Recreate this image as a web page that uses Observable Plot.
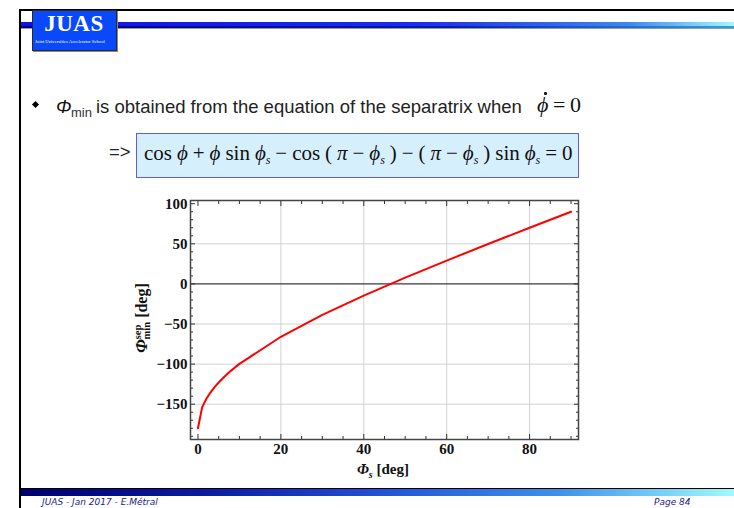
<!DOCTYPE html>
<html>
<head>
<meta charset="utf-8">
<script src="https://cdn.jsdelivr.net/npm/d3@7"></script>
<script src="https://cdn.jsdelivr.net/npm/@observablehq/plot@0.6"></script>
<style>
  body { margin: 0; background: #fff; }
  #slide { position: relative; width: 734px; height: 508px; overflow: hidden; background: #fff;
           font-family: "Liberation Sans", Arial, sans-serif; color: #111; }
  .abs { position: absolute; white-space: nowrap; }
  .serif { font-family: "Liberation Serif", "Times New Roman", serif; }
  .sub { position: relative; font-style: italic; font-size: 12px; top: 4px; }
</style>
</head>
<body>
<div id="slide">
  <!-- slide frame -->
  <div class="abs" style="left:20px;top:9px;width:714px;height:2px;background:#000"></div>
  <div class="abs" style="left:19px;top:9px;width:2px;height:499px;background:#000"></div>
  <!-- header bar -->
  <div class="abs" style="left:21px;top:22px;width:713px;height:4px;background:linear-gradient(to right,#1010e8 0%,#1a2cf0 55%,#3a86f2 85%,#9ffbff 100%)"></div>
  <div class="abs" style="left:21px;top:26px;width:713px;height:2px;background:linear-gradient(to right,#00007a 0%,#0a1aa8 60%,#3a9ae0 100%)"></div>
  <div class="abs" style="left:21px;top:28px;width:713px;height:1px;background:#9a9a9a"></div>
  <!-- logo -->
  <div class="abs" style="left:32px;top:10px;width:83px;height:39px;background:#0a48fb;border:1px solid #2a2a2a;box-shadow:1px 1px 0 #888"></div>
  <div class="abs serif" style="left:32px;top:12px;width:84px;text-align:center;color:#fff;font-weight:bold;font-size:23px;line-height:23px;letter-spacing:0.5px">JUAS</div>
  <div class="abs serif" style="left:35px;top:39px;color:#fff;font-size:9px;line-height:9px;transform:scale(0.52);transform-origin:0 0">Joint Universities Accelerator School</div>

  <!-- bullet line -->
  <div class="abs" style="left:33px;top:102px;width:5px;height:5px;background:#000;transform:rotate(45deg)"></div>
  <div class="abs" style="left:56px;top:98px;font-size:18.5px;line-height:18.5px;font-style:italic">Φ</div>
  <div class="abs" style="left:71px;top:106px;font-size:13px;line-height:13px;color:#333">min</div>
  <div class="abs" style="left:96px;top:98px;font-size:18.5px;line-height:18.5px;color:#222">is obtained from the equation of the separatrix when</div>
  <div class="abs serif" style="left:537px;top:94px;font-size:22px;line-height:22px;font-style:italic">ϕ</div>
  <div class="abs" style="left:544px;top:92px;width:2.5px;height:2.5px;border-radius:50%;background:#111"></div>
  <div class="abs serif" style="left:553px;top:94px;font-size:22px;line-height:22px">=</div>
  <div class="abs serif" style="left:570px;top:94px;font-size:22px;line-height:22px">0</div>

  <!-- boxed equation -->
  <div class="abs" style="left:109px;top:143px;font-size:18.5px;line-height:18.5px;color:#222">=&gt;</div>
  <div class="abs" style="left:136px;top:133px;width:441px;height:43px;background:#d6effd;border:1px solid #5c5ce8"></div>
  <div class="abs serif" id="eq" style="left:144px;top:143px;font-size:21px;line-height:21px;word-spacing:-0.3px">cos <i>ϕ</i> + <i>ϕ</i> sin <i>ϕ</i><span class="sub">s</span> − cos ( <i>π</i> − <i>ϕ</i><span class="sub">s</span> ) − ( <i>π</i> − <i>ϕ</i><span class="sub">s</span> ) sin <i>ϕ</i><span class="sub">s</span> = 0</div>

  <!-- footer -->
  <div class="abs" style="left:21px;top:488px;width:713px;height:1px;background:#000"></div>
  <div class="abs" style="left:21px;top:489px;width:713px;height:7px;background:linear-gradient(to right,#00006e 0%,#0a1aa0 25%,#2050d8 50%,#3c90e8 75%,#9ffbff 100%)"></div>
  <div class="abs" style="left:42px;top:498px;font-family:'DejaVu Sans',sans-serif;font-style:italic;font-size:9px;line-height:9px;color:#1c1c8a">JUAS - Jan 2017 - E.Métral</div>
  <div class="abs" style="left:654px;top:498px;font-family:'DejaVu Sans',sans-serif;font-style:italic;font-size:9px;line-height:9px;color:#1c1c8a">Page 84</div>

  <div class="abs" id="chart" style="left:130px;top:190px"></div>
</div>

<script>
// synchronous phase φs (deg) and the lower turning point of the separatrix φmin (deg)
const phiS   = [0, 1, 2, 3, 4, 5, 6, 7, 8, 9, 10, 20, 30, 40, 50, 60, 70, 80, 90];
const phiMin = [-180, -154.0, -143.5, -135.5, -128.8, -122.9, -117.6, -112.6, -108.1, -103.8,
                -99.7, -65.9, -38.7, -14.6, 7.8, 29.1, 49.8, 70.0, 90.0];

// frame ticks
const xMajor = [0, 20, 40, 60, 80];
const xMinor = [5, 10, 15, 25, 30, 35, 45, 50, 55, 65, 70, 75, 85, 90];
const yMajor = [-150, -100, -50, 0, 50, 100];
const yMinor = [-190, -180, -170, -160, -140, -130, -120, -110, -90, -80, -70, -60,
                -40, -30, -20, -10, 10, 20, 30, 40, 60, 70, 80, 90];
const xGrid = [20, 40, 60, 80];
const yGrid = [-150, -100, -50, 50];

const serif = "'Liberation Serif', 'Times New Roman', serif";
const data = phiS.map((x, i) => ({x, y: phiMin[i]}));
const fmt = d => d < 0 ? "\u2212" + Math.abs(d) : String(d);
const tickStroke = "#333";

const chart = Plot.plot({
  width: 460,
  height: 290,
  marginLeft: 60,
  marginRight: 12,
  marginTop: 10,
  marginBottom: 41,
  style: {fontFamily: serif, fontSize: "15px", fontWeight: "bold", color: "#111", background: "transparent", overflow: "visible"},
  x: {domain: [-1.8, 91.8]},
  y: {domain: [-194, 104]},
  marks: [
    Plot.gridX(xGrid, {stroke: "#d2d2d2", strokeOpacity: 1, strokeWidth: 1}),
    Plot.gridY(yGrid, {stroke: "#d2d2d2", strokeOpacity: 1, strokeWidth: 1}),
    Plot.ruleY([0], {stroke: "#3a3a3a", strokeWidth: 1.4}),
    Plot.line(data, {x: "x", y: "y", stroke: "#ff0000", strokeWidth: 2}),
    // inward ticks on all four sides
    Plot.axisX(xMajor, {anchor: "bottom", tickSize: -5, fill: "none", label: null, stroke: tickStroke}),
    Plot.axisX(xMinor, {anchor: "bottom", tickSize: -3, fill: "none", label: null, stroke: tickStroke}),
    Plot.axisX(xMajor, {anchor: "top", tickSize: -5, fill: "none", label: null, stroke: tickStroke}),
    Plot.axisX(xMinor, {anchor: "top", tickSize: -3, fill: "none", label: null, stroke: tickStroke}),
    Plot.axisY(yMajor, {anchor: "left", tickSize: -5, fill: "none", label: null, stroke: tickStroke}),
    Plot.axisY(yMinor, {anchor: "left", tickSize: -3, fill: "none", label: null, stroke: tickStroke}),
    Plot.axisY(yMajor, {anchor: "right", tickSize: -5, fill: "none", label: null, stroke: tickStroke}),
    Plot.axisY(yMinor, {anchor: "right", tickSize: -3, fill: "none", label: null, stroke: tickStroke}),
    // tick labels
    Plot.axisX(xMajor, {anchor: "bottom", tickSize: 0, tickPadding: 4, tickFormat: fmt, label: null, fill: "#111"}),
    Plot.axisY(yMajor, {anchor: "left", tickSize: 0, tickPadding: 3, tickFormat: fmt, label: null, fill: "#111"}),
    Plot.frame({stroke: "#444", strokeWidth: 1.5})
  ]
});

// axis titles with stacked super/subscripts
const svg = d3.select(chart);
const yl = svg.append("text")
  .attr("transform", "translate(17,128) rotate(-90)")
  .attr("text-anchor", "middle")
  .attr("font-family", serif).attr("font-weight", "bold").attr("font-size", 16).attr("fill", "#111");
yl.append("tspan").attr("font-style", "italic").attr("font-size", 17).text("Φ");
yl.append("tspan").attr("font-size", 10.5).attr("dy", -6).text("sep");
yl.append("tspan").attr("font-size", 10.5).attr("dx", -14.6).attr("dy", 9).text("min");
yl.append("tspan").attr("dy", -3).text(" [deg]");

const xl = svg.append("text")
  .attr("x", 253).attr("y", 284)
  .attr("text-anchor", "middle")
  .attr("font-family", serif).attr("font-weight", "bold").attr("font-size", 15).attr("fill", "#111");
xl.append("tspan").attr("font-style", "italic").text("Φ");
xl.append("tspan").attr("font-style", "italic").attr("font-size", 10).attr("dy", 4).text("s");
xl.append("tspan").attr("dy", -4).text(" [deg]");

document.getElementById("chart").appendChild(chart);
</script>
</body>
</html>
